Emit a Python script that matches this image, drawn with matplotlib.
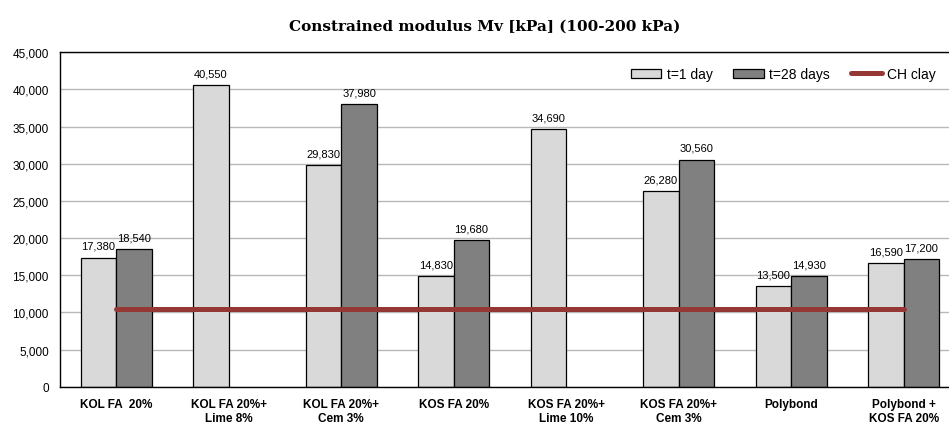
import matplotlib.pyplot as plt
import numpy as np
from matplotlib.ticker import FuncFormatter
from matplotlib.patches import Patch
from matplotlib.lines import Line2D

plt.rcParams['font.family'] = ['Liberation Sans', 'DejaVu Sans']

categories = ['KOL FA  20%', 'KOL FA 20%+\nLime 8%', 'KOL FA 20%+\nCem 3%', 'KOS FA 20%',
              'KOS FA 20%+\nLime 10%', 'KOS FA 20%+\nCem 3%', 'Polybond', 'Polybond +\nKOS FA 20%']
day1 = [17380, 40550, 29830, 14830, 34690, 26280, 13500, 16590]
day28 = [18540, None, 37980, 19680, None, 30560, 14930, 17200]
ch_clay = [10400] * 8

fig = plt.figure(figsize=(9.49, 4.31), dpi=100)
W, H = 949, 431
ax = fig.add_axes([60 / W, 1 - 387.7 / H, 900 / W, (387.7 - 53.3) / H])

x = np.arange(len(categories))
w = 0.316
light = '#d9d9d9'
dark = '#808080'
red = '#953735'

# bars (skip missing 28-day values)
ax.bar(x - w / 2, day1, w, color=light, edgecolor='black', linewidth=0.9, zorder=2)
x28 = [xi for xi, v in zip(x, day28) if v is not None]
v28 = [v for v in day28 if v is not None]
ax.bar(np.array(x28) + w / 2, v28, w, color=dark, edgecolor='black', linewidth=0.9, zorder=2)

for xi, v in zip(x, day1):
    ax.text(xi - w / 2, v + 900, f'{v:,}', ha='center', va='bottom', fontsize=8)
for xi, v in zip(x28, v28):
    ax.text(xi + w / 2, v + 900, f'{v:,}', ha='center', va='bottom', fontsize=8)

ax.plot(x, ch_clay, color=red, linewidth=3.6, solid_capstyle='round', zorder=3)

ax.set_xlim(-0.5, 7.5)
ax.set_ylim(0, 45000)
ax.set_yticks(np.arange(0, 45001, 5000))
ax.yaxis.set_major_formatter(FuncFormatter(lambda v, p: f'{int(v):,}'))
ax.set_xticks(x)
ax.set_xticklabels(categories, fontsize=8.5, fontweight='bold')
ax.tick_params(axis='y', labelsize=8.5, length=0, pad=8)
ax.tick_params(axis='x', length=0, pad=8)
ax.grid(axis='y', color='#b8b8b8', linewidth=1, zorder=0)
ax.set_axisbelow(True)
for s in ax.spines.values():
    s.set_color('black')
    s.set_linewidth(1)

fig.text(485 / W, 1 - 27 / H, 'Constrained modulus Mv [kPa] (100-200 kPa)',
         ha='center', va='center', fontsize=11, fontweight='bold', family='DejaVu Serif')

handles = [Patch(facecolor=light, edgecolor='black', linewidth=0.9),
           Patch(facecolor=dark, edgecolor='black', linewidth=0.9),
           Line2D([0], [0], color=red, linewidth=3.6, solid_capstyle='round')]
fig.legend(handles, ['t=1 day', 't=28 days', 'CH clay'], loc='center left',
           bbox_to_anchor=(618 / W, 1 - 75 / H), ncol=3, frameon=False, fontsize=10,
           handlelength=2.2, handleheight=0.6, handletextpad=0.4, columnspacing=1.5)

fig.savefig('out.png', dpi=100)
